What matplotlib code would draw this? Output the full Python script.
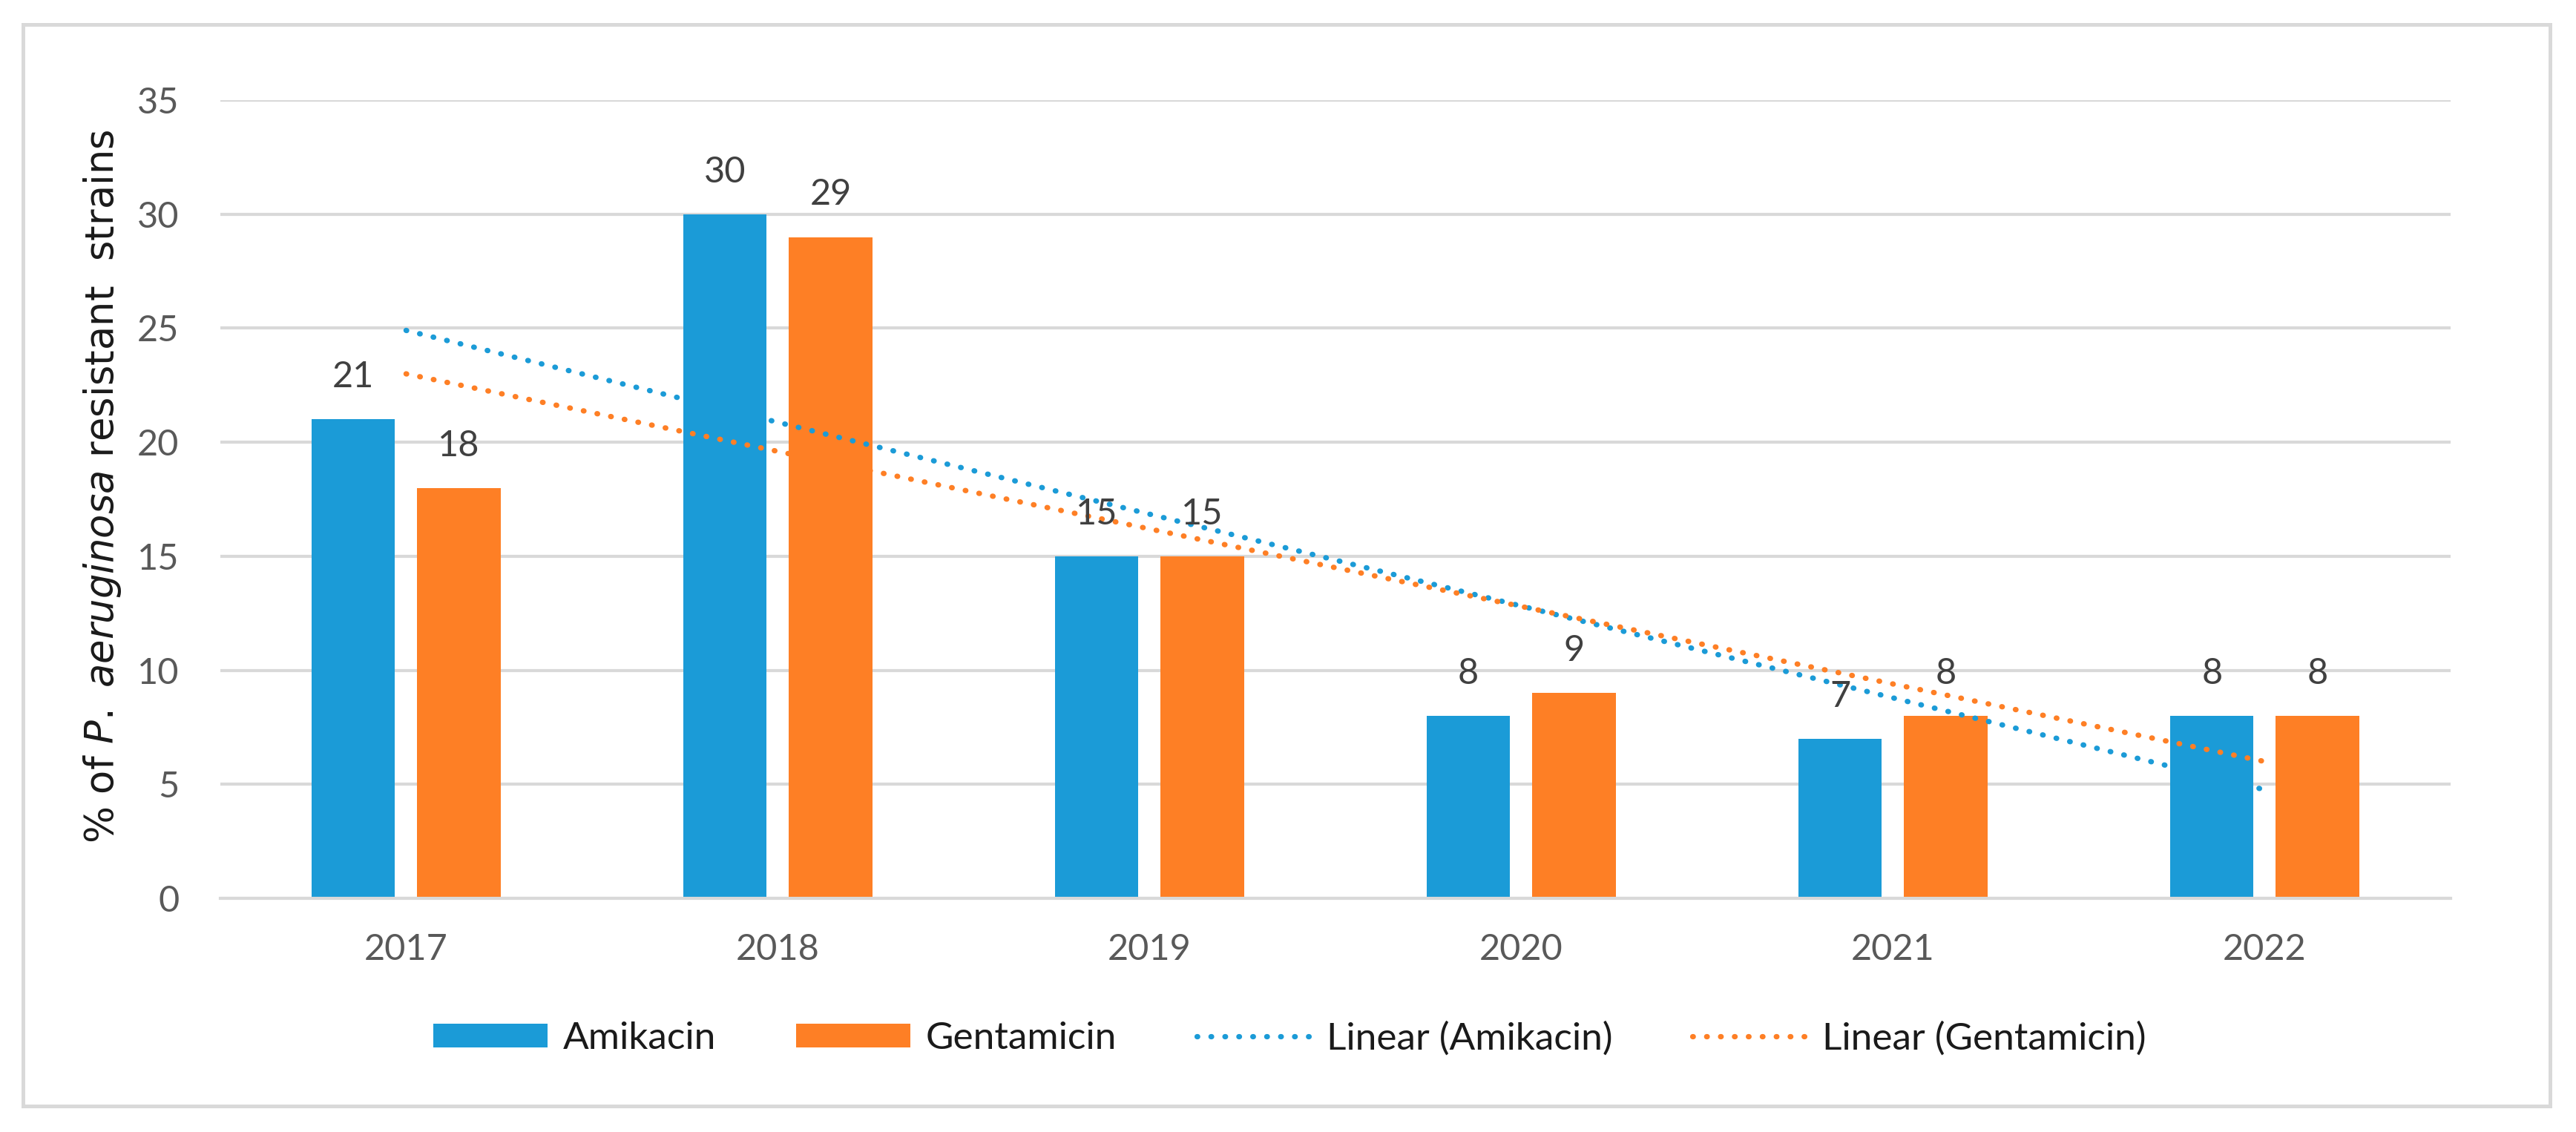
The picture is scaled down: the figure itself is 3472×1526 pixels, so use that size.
import numpy as np
import matplotlib
matplotlib.use("Agg")
import matplotlib.pyplot as plt
from matplotlib.patches import Rectangle

plt.rcParams['font.family'] = ['Lato', 'DejaVu Sans']
plt.rcParams['mathtext.fontset'] = 'dejavusans'

years = ["2017", "2018", "2019", "2020", "2021", "2022"]
amikacin = [21, 30, 15, 8, 7, 8]
gentamicin = [18, 29, 15, 9, 8, 8]

blue = "#1B9BD7"
orange = "#FE7F25"
grid_col = "#D9D9D9"

fig = plt.figure(figsize=(17.36, 7.63), dpi=200)
ax = fig.add_axes([0.0855, 0.2064, 0.9513 - 0.0855, 0.9115 - 0.2064])

x = np.arange(len(years))
w = 0.224
off = 0.142

b1 = ax.bar(x - off, amikacin, w, color=blue, label="Amikacin", zorder=2)
b2 = ax.bar(x + off, gentamicin, w, color=orange, label="Gentamicin", zorder=2)

# linear trendlines like excel (x = 1..6)
xs = np.arange(1, len(years) + 1)
pa = np.polyfit(xs, amikacin, 1)
pg = np.polyfit(xs, gentamicin, 1)
ax.plot(x, np.polyval(pa, xs), color=blue, lw=2.6, linestyle=(0, (0.1, 2.5)),
        dash_capstyle='round', label="Linear (Amikacin)", zorder=3)
ax.plot(x, np.polyval(pg, xs), color=orange, lw=2.6, linestyle=(0, (0.1, 2.5)),
        dash_capstyle='round', label="Linear (Gentamicin)", zorder=3)

for bars, vals in [(b1, amikacin), (b2, gentamicin)]:
    for r, v in zip(bars, vals):
        ax.annotate(str(v), (r.get_x() + r.get_width() / 2, v), xytext=(0, 15.5),
                    textcoords='offset points', ha='center', va='baseline',
                    fontsize=17.5, color="#404040", zorder=4)

ax.set_xlim(-0.5, len(years) - 0.5)
ax.set_ylim(0, 35)
ax.set_yticks(range(0, 36, 5))
ax.set_xticks(x)
ax.set_xticklabels(years)
ax.tick_params(axis='both', length=0, labelsize=17.5, labelcolor="#595959")
ax.tick_params(axis='x', pad=17)
ax.tick_params(axis='y', pad=20)
ax.grid(axis='y', color=grid_col, lw=1.5, zorder=0)
ax.set_axisbelow(True)
for s in ['top', 'right', 'left']:
    ax.spines[s].set_visible(False)
ax.spines['bottom'].set_color(grid_col)
ax.spines['bottom'].set_linewidth(1.5)

fig.text(0.0441, 0.570, "% of $\\it{P.\\ aeruginosa}$ resistant  strains",
         rotation=90, rotation_mode='anchor', ha='center', va='baseline',
         fontsize=19, family='DejaVu Sans', color="#1a1a1a")

fig.legend(handles=[b1, b2] + ax.lines, loc='center', bbox_to_anchor=(0.5006, 0.0826),
           ncol=4, frameon=False, fontsize=18.5, handlelength=3.0, handleheight=0.6,
           handletextpad=0.4, columnspacing=2.1, labelcolor="#1a1a1a")

# outer chart border
fig.patches.append(Rectangle((0.0089, 0.0229), 0.9899 - 0.0089, 0.9784 - 0.0229,
                             transform=fig.transFigure, fill=False,
                             edgecolor=grid_col, lw=1.8))

fig.savefig("out.png", dpi=200)
